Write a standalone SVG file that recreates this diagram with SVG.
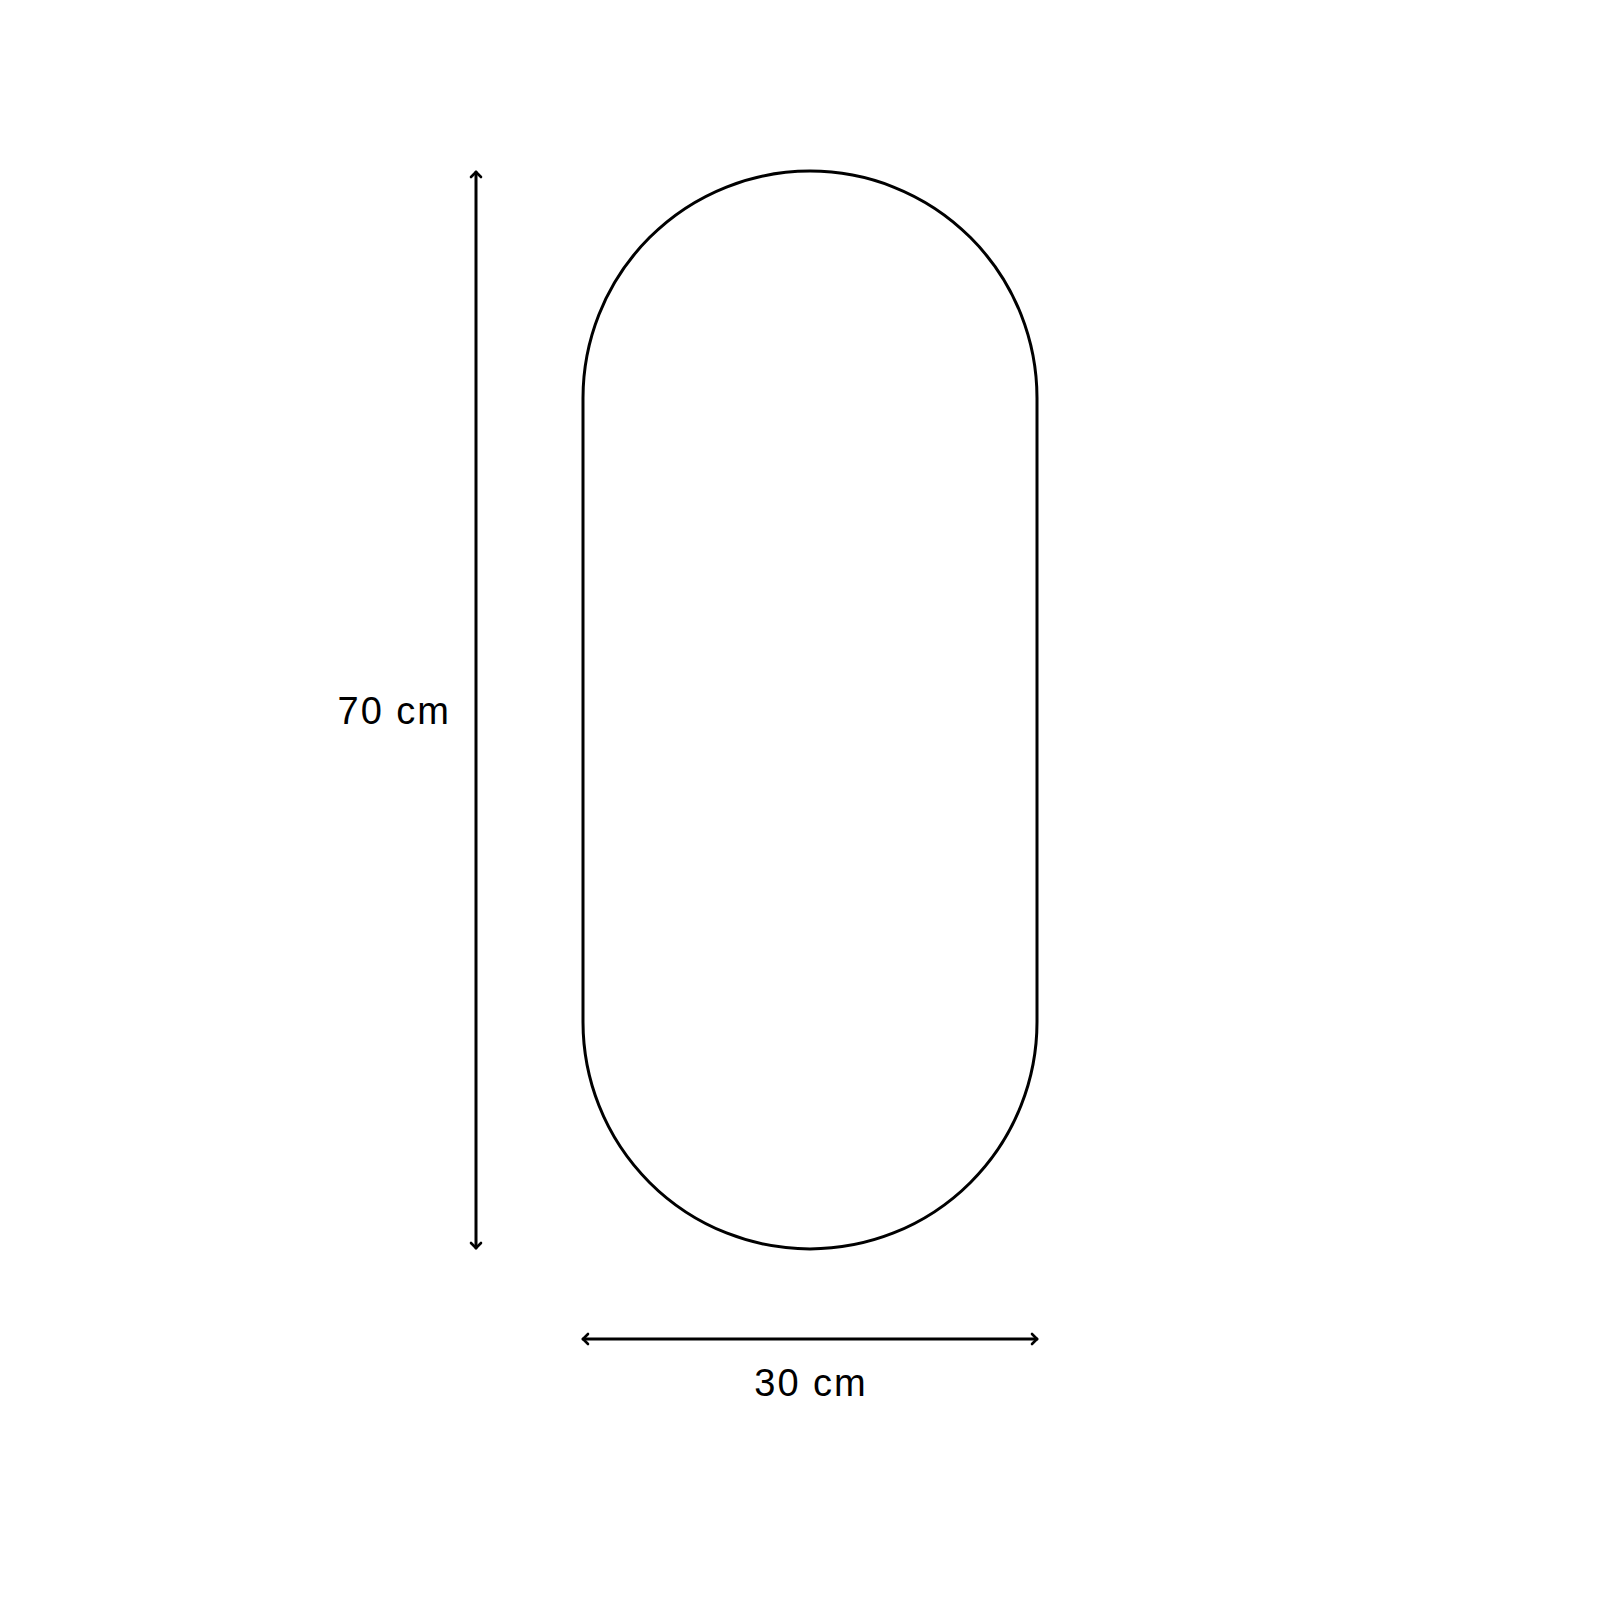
<svg xmlns="http://www.w3.org/2000/svg" width="1620" height="1620" viewBox="0 0 1620 1620">
<style>
.ln{fill:none;stroke:#000;stroke-width:3;stroke-linecap:round;stroke-linejoin:round}
.lbl{font-family:"Liberation Sans",Arial,sans-serif;font-size:38px;fill:#000;letter-spacing:2px}
</style>
<defs>
<marker id="ah" viewBox="-8 -8 16 16" markerWidth="16" markerHeight="16" refX="0" refY="0" orient="auto-start-reverse" markerUnits="userSpaceOnUse">
<path d="M-5,-5 L0,0 L-5,5" fill="none" stroke="#000" stroke-width="2.6" stroke-linecap="round" stroke-linejoin="round"/>
</marker>
</defs>
<rect width="1620" height="1620" fill="#fff"/>
<g id="mirror">
<path class="ln" d="M583,398 A227,227 0 0 1 1037,398 L1037,1022 A227,227 0 0 1 583,1022 Z"/>
</g>
<g id="connectors">
<line class="ln" x1="476" y1="172" x2="476" y2="1248" marker-start="url(#ah)" marker-end="url(#ah)"/>
<line class="ln" x1="583" y1="1339" x2="1037" y2="1339" marker-start="url(#ah)" marker-end="url(#ah)"/>
</g>
<g id="label-height">
<text class="lbl" x="451" y="724" text-anchor="end">70 cm</text>
</g>
<g id="label-width">
<text class="lbl" x="811" y="1396" text-anchor="middle">30 cm</text>
</g>
</svg>
